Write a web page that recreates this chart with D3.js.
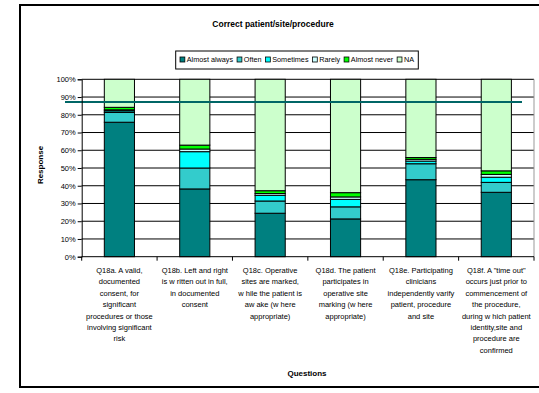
<!DOCTYPE html>
<html><head><meta charset="utf-8">
<script src="https://cdn.jsdelivr.net/npm/d3@7"></script>
<style>body{margin:0;background:#fff}svg{display:block}text{font-family:"Liberation Sans",Arial,sans-serif}</style>
</head><body><svg id="c" width="539" height="393"></svg>
<script>
const categories = ["Q18a","Q18b","Q18c","Q18d","Q18e","Q18f"];
const categoryLabels = [
 ["Q18a. A valid,","documented","consent, for","significant","procedures or those","involving significant","risk"],
 ["Q18b. Left and right","is w ritten out in full,","in documented","consent"],
 ["Q18c. Operative","sites are marked,","w hile the patient is","aw ake (w here","appropriate)"],
 ["Q18d. The patient","participates in","operative site","marking (w here","appropriate)"],
 ["Q18e. Participating","clinicians","independently varify","patient, procedure","and site"],
 ["Q18f. A \"time out\"","occurs just prior to","commencement of","the procedure,","during w hich patient","identity,site and","procedure are","confirmed"]
];
const seriesNames = ["Almost always","Often","Sometimes","Rarely","Almost never","NA"];
const almostAlways = [75.8, 38.2, 24.5, 21.3, 43.4, 36.3];
const often        = [5.5, 11.8, 6.9, 6.8, 9.0, 5.6];
const sometimes    = [0.9, 9.2, 3.2, 4.2, 1.5, 2.9];
const rarely       = [0.6, 1.5, 1.0, 1.4, 1.0, 1.6];
const almostNever  = [1.4, 2.2, 1.6, 2.4, 1.0, 2.0];
const na           = [15.8, 37.1, 62.8, 63.9, 44.1, 51.6];
const yTicks = [0,10,20,30,40,50,60,70,80,90,100];
const referenceLine = 87.2;
const colors = ["#008080","#33CCCC","#00FFFF","#CCFFFF","#00FF00","#CCFFCC"];

const series = [almostAlways, often, sometimes, rarely, almostNever, na];
const rows = categories.map((c,i)=>{const o={cat:c}; seriesNames.forEach((s,j)=>o[s]=series[j][i]); return o;});
const stacked = d3.stack().keys(seriesNames)(rows);

const svg = d3.select("#c");
svg.append("rect").attr("x",20).attr("y",5).attr("width",530).attr("height",382)
  .attr("fill","none").attr("stroke","#000").attr("stroke-width",2);

const L=81.7, R=534, T=79.3, B=256.7;
const x = d3.scaleBand().domain(categories).range([L,R]).padding(0);
const y = d3.scaleLinear().domain([0,100]).range([B,T]);
const bw = x.bandwidth()*0.4;

svg.append("g").selectAll("line").data(yTicks.slice(1)).join("line")
  .attr("x1",L).attr("x2",R).attr("y1",d=>y(d)).attr("y2",d=>y(d))
  .attr("stroke","#000").attr("stroke-width",1);
svg.append("line").attr("x1",R).attr("x2",R).attr("y1",T).attr("y2",B).attr("stroke","#999");

const g = svg.append("g");
stacked.forEach((layer,j)=>{
  g.selectAll(null).data(layer).join("rect")
   .attr("x",(d,i)=>x(categories[i])+x.bandwidth()/2-bw/2)
   .attr("width",bw)
   .attr("y",d=>y(d[1])).attr("height",d=>y(d[0])-y(d[1]))
   .attr("fill",colors[j]).attr("stroke","#000").attr("stroke-width",1);
});

svg.append("line").attr("x1",65).attr("x2",522).attr("y1",y(referenceLine)).attr("y2",y(referenceLine))
  .attr("stroke","#006666").attr("stroke-width",2);

const ya = svg.append("g").attr("transform",`translate(${L},0)`)
  .call(d3.axisLeft(y).tickValues(yTicks).tickFormat(d=>d+"%").tickSize(4).tickPadding(2));
ya.select(".domain").attr("stroke","#000");
ya.selectAll("text").attr("font-size",7.5).attr("fill","#000").attr("font-family","Liberation Sans, Arial");
ya.selectAll("line").attr("stroke","#000");

svg.append("line").attr("x1",L).attr("x2",R).attr("y1",B).attr("y2",B).attr("stroke","#000");
const xt=[...categories.map(c=>x(c)), R];
svg.append("g").selectAll("line").data(xt).join("line")
  .attr("x1",d=>d).attr("x2",d=>d).attr("y1",B).attr("y2",B+4).attr("stroke","#000");

categories.forEach((c,i)=>{
  const t = svg.append("text").attr("text-anchor","middle").attr("font-size",7.5).attr("fill","#000");
  categoryLabels[i].forEach((ln,k)=>{
    t.append("tspan").attr("x",x(c)+x.bandwidth()/2).attr("y",273+k*11.4).text(ln);
  });
});

svg.append("text").attr("x",273).attr("y",27).attr("text-anchor","middle").attr("font-size",8.5)
  .attr("font-weight","bold").text("Correct patient/site/procedure");
svg.append("text").attr("x",307).attr("y",376).attr("text-anchor","middle").attr("font-size",8)
  .attr("font-weight","bold").text("Questions");
svg.append("text").attr("transform","translate(43,165) rotate(-90)").attr("text-anchor","middle")
  .attr("font-size",8).attr("font-weight","bold").text("Response");

// legend
const lg = svg.append("g");
const box = lg.append("rect").attr("y",51).attr("height",18)
  .attr("fill","#fff").attr("stroke","#000").attr("stroke-width",1);
const items = lg.append("g");
let lx = 0;
seriesNames.forEach((s,j)=>{
  items.append("rect").attr("x",lx).attr("y",57).attr("width",5).attr("height",5)
    .attr("fill",colors[j]).attr("stroke","#000").attr("stroke-width",0.8);
  const t = items.append("text").attr("x",lx+7).attr("y",62.5).attr("font-size",7.5).text(s);
  lx += 7 + t.node().getComputedTextLength() + 4;
});
const totalW = lx - 4;
const targetW = 234;
const sc = Math.min(1, targetW/totalW);
const lx0 = 180;
items.attr("transform",`translate(${lx0},0) scale(${sc},1)`);
box.attr("x",175.7).attr("width",242.6);
</script></body></html>
